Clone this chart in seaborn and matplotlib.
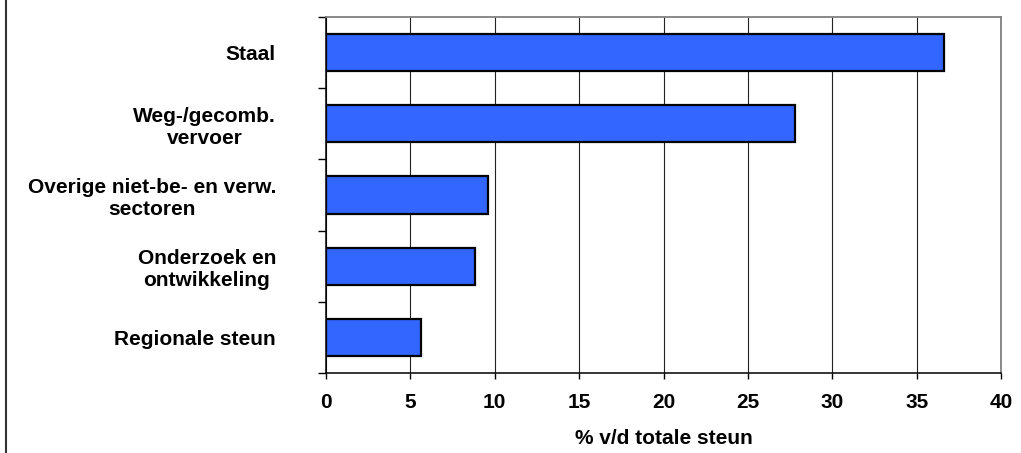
import matplotlib
matplotlib.use("Agg")
import matplotlib.pyplot as plt
from matplotlib.lines import Line2D
from matplotlib.ticker import FixedLocator
import seaborn as sns
import pandas as pd

categories = ["Staal", "Weg-/gecomb.\nvervoer", "Overige niet-be- en verw.\nsectoren",
              "Onderzoek en\nontwikkeling", "Regionale steun"]
values = [36.6, 27.8, 9.6, 8.8, 5.6]
x_ticks = [0, 5, 10, 15, 20, 25, 30, 35, 40]
x_label = "% v/d totale steun"

sns.set_style("white")
plt.rcParams["font.family"] = ["Liberation Sans", "DejaVu Sans"]
plt.rcParams["font.weight"] = "bold"
plt.rcParams["text.color"] = "black"
plt.rcParams["axes.labelcolor"] = "black"
plt.rcParams["xtick.color"] = "black"
plt.rcParams["ytick.color"] = "black"

df = pd.DataFrame({"cat": categories, "val": values})

fig = plt.figure(figsize=(10.21, 4.53), dpi=100)
ax = fig.add_axes([326 / 1021, 1 - 373 / 453, (1001 - 326) / 1021, (373 - 17) / 453])

sns.barplot(data=df, x="val", y="cat", orient="h", color="#3366FF", saturation=1,
            edgecolor="black", linewidth=1.6, width=0.52, ax=ax, zorder=3)

ax.set_xlim(0, 40)
ax.set_ylim(4.5, -0.5)
ax.set_xticks(x_ticks)
ax.set_xticklabels([str(t) for t in x_ticks], fontsize=15, fontweight="bold", color="black")
ax.grid(axis="x", color="#222222", linewidth=0.8, zorder=0)
ax.grid(axis="y", visible=False)
ax.set_axisbelow(True)

ax.set_yticks(range(len(categories)))
ax.set_yticklabels(categories, fontsize=15, fontweight="bold", multialignment="center",
                   color="black")
ax.tick_params(axis="y", which="major", length=0, pad=36)
ax.yaxis.set_minor_locator(FixedLocator([i - 0.5 for i in range(len(categories) + 1)]))
ax.tick_params(axis="y", which="minor", length=6, width=1, color="black", direction="out", left=True)
ax.tick_params(axis="x", which="major", length=4.5, width=1, color="black", direction="out",
               bottom=True, pad=10)

ax.set_xlabel(x_label, fontsize=15, fontweight="bold", labelpad=12, color="black")
ax.set_ylabel("")

for side in ["left", "bottom"]:
    ax.spines[side].set_color("black")
    ax.spines[side].set_linewidth(1.1)
for side in ["top", "right"]:
    ax.spines[side].set_visible(True)
    ax.spines[side].set_color("#808080")
    ax.spines[side].set_linewidth(1.3)

fig.add_artist(Line2D([6 / 1021, 6 / 1021], [0, 1], transform=fig.transFigure,
                      color="#333333", linewidth=1.5))

fig.savefig("out.png", dpi=100)
